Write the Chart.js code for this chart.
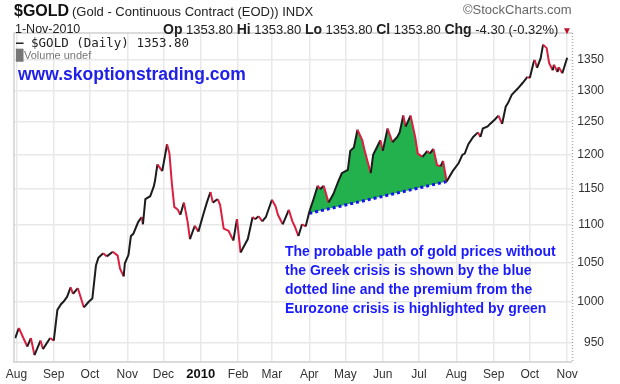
<!DOCTYPE html>
<html lang="en">
<head>
  <meta charset="UTF-8" />
  <title>$GOLD daily</title>
  <script src="https://cdn.jsdelivr.net/npm/chart.js"></script>
  <style>
    body { margin: 0; background: #fff; font-family: "Liberation Sans", Arial, sans-serif; }
    #wrap { position: relative; width: 620px; height: 384px; overflow: hidden; }
    #wrap canvas { position: absolute; left: 0; top: 0; }
    .t { position: absolute; white-space: nowrap; line-height: 1; }
    .b { font-weight: bold; font-size: 14px; }
    .note { color: #1a1aff; font-weight: bold; font-size: 14px; }
  </style>
</head>
<body>
  <div id="wrap">
    <canvas id="goldChart" width="620" height="384"></canvas>
    <div class="t" style="left:14px;top:3px;font-size:16px;font-weight:bold;color:#111">$GOLD</div>
    <div class="t" style="left:72px;top:5px;font-size:13px;color:#222">(Gold - Continuous Contract (EOD)) INDX</div>
    <div class="t" style="left:463px;top:3px;font-size:13px;color:#666">&copy;StockCharts.com</div>
    <div class="t" style="left:15px;top:23px;font-size:12.5px;color:#222">1-Nov-2010</div>
    <div class="t" style="left:163px;top:22px;font-size:13px;color:#222">
      <span class="b">Op</span> 1353.80 <span class="b">Hi</span> 1353.80
      <span class="b">Lo</span> 1353.80 <span class="b">Cl</span> 1353.80
      <span class="b">Chg</span> -4.30 (-0.32%) <span style="color:#c0102a;font-size:10px">&#9660;</span>
    </div>
    <div class="t" style="left:16px;top:37px;font-size:12.5px;color:#222;font-family:'DejaVu Sans Mono',monospace"><b>&#8212;</b> $GOLD (Daily) 1353.80</div>
    <div class="t" style="left:16px;top:50px;font-size:11px;color:#777">&#9609;Volume undef</div>
    <div class="t" style="left:18px;top:66px;font-size:17.5px;font-weight:bold;color:#2020e8">www.skoptionstrading.com</div>
    <div class="t note" style="left:285px;top:244px">The probable path of gold prices without</div>
    <div class="t note" style="left:285px;top:263px">the Greek crisis is shown by the blue</div>
    <div class="t note" style="left:285px;top:282px">dotted line and the premium from the</div>
    <div class="t note" style="left:285px;top:301px">Eurozone crisis is highlighted by green</div>
  </div>

  <script>
    const dates = [
      '2009-07-31','2009-08-03','2009-08-10','2009-08-13','2009-08-16','2009-08-21','2009-08-23','2009-08-29',
      '2009-09-01','2009-09-04','2009-09-07','2009-09-09','2009-09-12','2009-09-15','2009-09-17','2009-09-21',
      '2009-09-26','2009-09-30','2009-10-03','2009-10-06','2009-10-08','2009-10-12','2009-10-15','2009-10-20',
      '2009-10-24','2009-10-26','2009-10-29','2009-10-30','2009-11-02','2009-11-04','2009-11-06','2009-11-10',
      '2009-11-13','2009-11-14','2009-11-16','2009-11-20','2009-11-23','2009-11-24','2009-11-26','2009-11-30',
      '2009-12-04','2009-12-06','2009-12-08','2009-12-10','2009-12-13','2009-12-15','2009-12-18','2009-12-21',
      '2009-12-23','2009-12-27','2009-12-30','2010-01-03','2010-01-06','2010-01-09','2010-01-11','2010-01-15',
      '2010-01-17','2010-01-20','2010-01-24','2010-01-28','2010-01-31','2010-02-03','2010-02-09','2010-02-13',
      '2010-02-15','2010-02-18','2010-02-21','2010-02-24','2010-03-01','2010-03-04','2010-03-06','2010-03-10',
      '2010-03-15','2010-03-18','2010-03-20','2010-03-23','2010-03-26','2010-03-29','2010-04-01','2010-04-04',
      '2010-04-08','2010-04-10','2010-04-13','2010-04-17','2010-04-21','2010-04-25','2010-04-28','2010-05-03',
      '2010-05-05','2010-05-08','2010-05-11','2010-05-15','2010-05-17','2010-05-22','2010-05-24','2010-05-30',
      '2010-06-01','2010-06-05','2010-06-09','2010-06-13','2010-06-15','2010-06-18','2010-06-20','2010-06-24',
      '2010-06-28','2010-06-30','2010-07-04','2010-07-08','2010-07-10','2010-07-13','2010-07-16','2010-07-19',
      '2010-07-21','2010-07-24','2010-07-29','2010-08-03','2010-08-06','2010-08-08','2010-08-11','2010-08-15',
      '2010-08-19','2010-08-21','2010-08-23','2010-08-27','2010-08-29','2010-09-02','2010-09-05','2010-09-08',
      '2010-09-11','2010-09-13','2010-09-16','2010-09-21','2010-09-25','2010-09-29','2010-10-01','2010-10-04',
      '2010-10-05','2010-10-07','2010-10-10','2010-10-12','2010-10-15','2010-10-17','2010-10-20','2010-10-21',
      '2010-10-24','2010-10-25','2010-10-28','2010-11-01'
    ];
    const prices = [
      956, 968, 946, 956, 936, 953, 943, 956,
      953, 990, 997, 1000, 1006, 1018, 1010, 1017,
      993, 1000, 1004, 1046, 1056, 1062, 1058, 1064,
      1059, 1042, 1032, 1049, 1060, 1085, 1088, 1104,
      1111, 1101, 1136, 1140, 1154, 1162, 1186, 1176,
      1216, 1202, 1158, 1125, 1121, 1114, 1131, 1105,
      1081, 1099, 1091, 1114, 1131, 1146, 1131, 1136,
      1128, 1095, 1092, 1079, 1108, 1063, 1081, 1111,
      1108, 1112, 1105, 1111, 1135, 1126, 1114, 1101,
      1121, 1105, 1098, 1085, 1101, 1098, 1118, 1133,
      1155, 1150, 1155, 1131, 1143, 1161, 1173, 1178,
      1206, 1211, 1238, 1222, 1206, 1173, 1200, 1222,
      1206, 1240, 1219, 1227, 1234, 1260, 1243, 1260,
      1226, 1202, 1197, 1206, 1202, 1209, 1185, 1183,
      1191, 1161, 1176, 1188, 1200, 1202, 1216, 1227,
      1234, 1227, 1240, 1243, 1247, 1254, 1260, 1247,
      1274, 1280, 1293, 1303, 1312, 1322, 1320, 1345,
      1350, 1337, 1353, 1376, 1370, 1345, 1333, 1342,
      1330, 1338, 1328, 1353.8
    ];

    // path without the Greek crisis (blue dotted line)
    const trendDates = ['2010-04-01', '2010-07-24'];
    const trendPrices = [1116, 1161];

    const monthStarts = [
      '2009-08-01','2009-09-01','2009-10-01','2009-11-01','2009-12-01','2010-01-01','2010-02-01','2010-03-01',
      '2010-04-01','2010-05-01','2010-06-01','2010-07-01','2010-08-01','2010-09-01','2010-10-01','2010-11-01'
    ];
    const monthLabels = ['Aug','Sep','Oct','Nov','Dec','2010','Feb','Mar','Apr','May','Jun','Jul','Aug','Sep','Oct','Nov'];
    const priceTicks = [950, 1000, 1050, 1100, 1150, 1200, 1250, 1300, 1350];

    // days since 1-Aug-2009
    function day(s) {
      return (Date.UTC(+s.slice(0, 4), +s.slice(5, 7) - 1, +s.slice(8, 10)) - Date.UTC(2009, 7, 1)) / 864e5;
    }

    const RED = '#dc1e40';
    const BLACK = '#1c1c1c';

    // green area between the price line and the dotted trend, plus the frame
    const premiumFill = {
      id: 'premiumFill',
      beforeDatasetsDraw(chart) {
        const { ctx, scales: { x, y } } = chart;
        const t0 = day(trendDates[0]), t1 = day(trendDates[1]);
        ctx.save();
        ctx.beginPath();
        ctx.moveTo(x.getPixelForValue(t0), y.getPixelForValue(trendPrices[0]));
        dates.forEach((d, i) => {
          const dd = day(d);
          if (dd >= t0 && dd <= t1) ctx.lineTo(x.getPixelForValue(dd), y.getPixelForValue(prices[i]));
        });
        ctx.lineTo(x.getPixelForValue(t1), y.getPixelForValue(trendPrices[1]));
        ctx.closePath();
        ctx.fillStyle = '#22b14c';
        ctx.fill();
        ctx.restore();
      },
      afterDraw(chart) {
        const { ctx, chartArea: a } = chart;
        ctx.save();
        ctx.strokeStyle = '#cfcfcf';
        ctx.lineWidth = 1.5;
        ctx.beginPath();
        ctx.moveTo(a.right, a.top);
        ctx.lineTo(a.left, a.top);
        ctx.lineTo(a.left, a.bottom);
        ctx.lineTo(a.right, a.bottom);
        ctx.stroke();
        ctx.setLineDash([1, 2]);
        ctx.strokeStyle = '#aaa';
        ctx.beginPath();
        ctx.moveTo(a.right + 0.5, a.top);
        ctx.lineTo(a.right + 0.5, a.bottom);
        ctx.stroke();
        ctx.restore();
      }
    };

    Chart.defaults.font.family = '"Liberation Sans", Arial, sans-serif';
    Chart.defaults.font.size = 12;
    Chart.defaults.color = '#333';

    new Chart(document.getElementById('goldChart'), {
      type: 'line',
      data: {
        datasets: [
          {
            label: 'Greek-free path',
            data: trendDates.map((d, i) => ({ x: day(d), y: trendPrices[i] })),
            borderColor: '#1414f0',
            borderWidth: 3,
            borderDash: [3, 3],
            pointRadius: 0,
            order: 2
          },
          {
            label: '$GOLD (Daily)',
            data: dates.map((d, i) => ({ x: day(d), y: prices[i] })),
            borderColor: BLACK,
            borderWidth: 2,
            pointRadius: 0,
            tension: 0,
            segment: {
              borderColor: c => c.p1.parsed.y < c.p0.parsed.y ? RED : BLACK
            },
            order: 1
          }
        ]
      },
      options: {
        responsive: false,
        animation: false,
        layout: { padding: { left: 14, top: 33, right: 16, bottom: 0 } },
        plugins: { legend: { display: false }, tooltip: { enabled: false } },
        scales: {
          x: {
            type: 'linear',
            min: -2,
            max: 461,
            afterBuildTicks: s => { s.ticks = monthStarts.map(d => ({ value: day(d) })); },
            afterFit: s => { s.height = 22; },
            grid: { color: '#e8e8e8', lineWidth: 1.5, drawTicks: false },
            border: { display: false },
            ticks: {
              autoSkip: false,
              maxRotation: 0,
              padding: 5,
              callback: (v, i) => monthLabels[i],
              font: c => c.tick && c.tick.label === '2010' ? { size: 13, weight: 'bold' } : { size: 12 },
              color: c => c.tick && c.tick.label === '2010' ? '#111' : '#333'
            }
          },
          y: {
            type: 'logarithmic',
            position: 'right',
            min: 928,
            max: 1396,
            afterBuildTicks: s => { s.ticks = priceTicks.map(v => ({ value: v })); },
            afterFit: s => { s.width = 32; },
            grid: { color: '#e8e8e8', lineWidth: 1.5, drawTicks: false },
            border: { display: false },
            ticks: { padding: 5, crossAlign: 'far', callback: v => String(v) }
          }
        }
      },
      plugins: [premiumFill]
    });
  </script>
</body>
</html>
